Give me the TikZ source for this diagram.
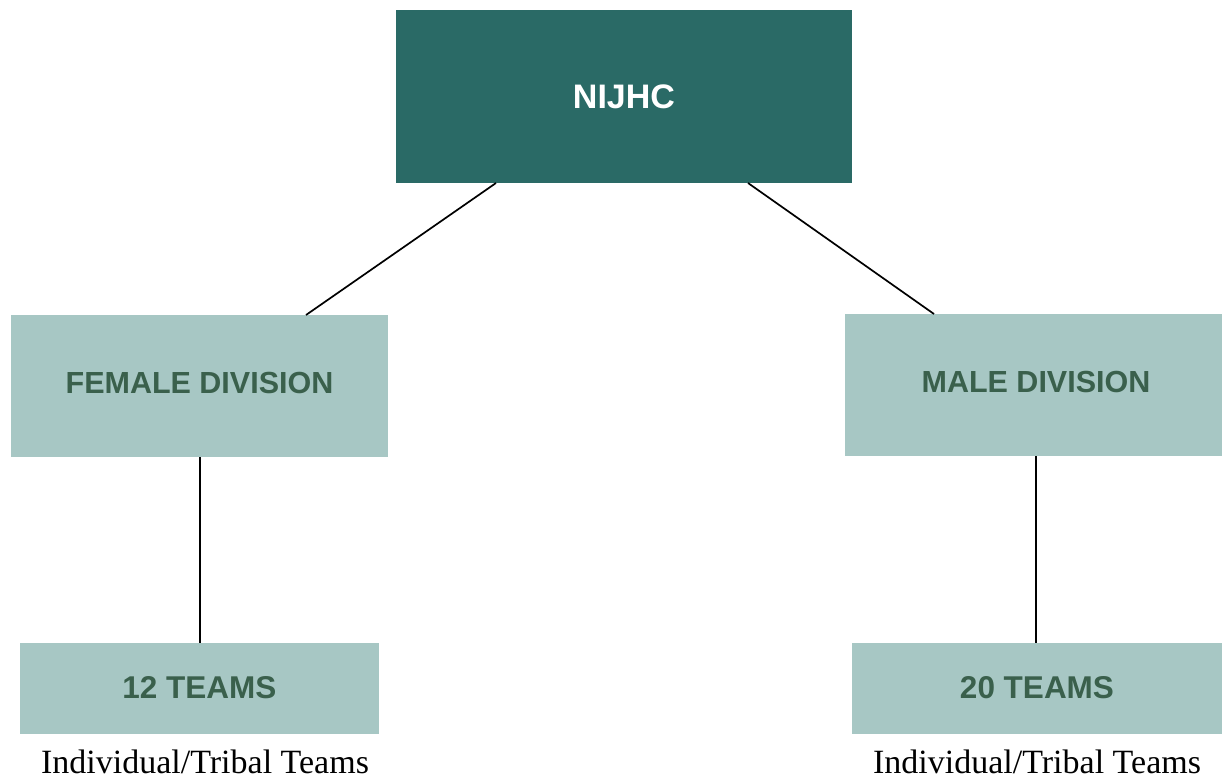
\documentclass[tikz,border=0pt]{standalone}
\usepackage{fontspec}
\setmainfont{Liberation Serif}
\setsansfont{Liberation Sans}
\definecolor{darkteal}{HTML}{2A6A66}
\definecolor{lightteal}{HTML}{A7C7C4}
\definecolor{divgreen}{HTML}{3A604C}
\begin{document}
\begin{tikzpicture}[x=1pt,y=-1pt,
  topbox/.style={fill=darkteal,text=white,font=\sffamily\bfseries\fontsize{34}{40}\selectfont},
  divbox/.style={fill=lightteal,text=divgreen,font=\sffamily\bfseries\fontsize{30.5}{36}\selectfont},
  teambox/.style={fill=lightteal,text=divgreen,font=\sffamily\bfseries\fontsize{31.5}{36}\selectfont},
  caption/.style={font=\fontsize{34}{38}\selectfont,text=black,inner sep=0pt,anchor=base},
  link/.style={draw=black,line width=1.7pt}]
\useasboundingbox (0,0) rectangle (1223,781);
\fill[white] (0,0) rectangle (1223,781);
% boxes
\path[topbox] (396,10) rectangle (852,183);
\node[topbox,fill=none] (top) at (624,97) {NIJHC};
\path[divbox] (11,315) rectangle (388,457);
\node[divbox,fill=none] (fem) at (199.5,383) {FEMALE DIVISION};
\path[divbox] (845,314) rectangle (1222,456);
\node[divbox,fill=none] (male) at (1036,382) {MALE DIVISION};
\path[teambox] (20,643) rectangle (379,734);
\node[teambox,fill=none] (t12) at (199.5,688) {12 TEAMS};
\path[teambox] (852,643) rectangle (1222,734);
\node[teambox,fill=none] (t20) at (1037,688) {20 TEAMS};
% connector endpoints
\coordinate (a1) at (496,183); \coordinate (a2) at (306,315);
\coordinate (b1) at (748,183); \coordinate (b2) at (934,314);
\coordinate (c1) at (200,457); \coordinate (c2) at (200,643);
\coordinate (d1) at (1036,456); \coordinate (d2) at (1036,643);
\draw[link] (a1) -- (a2);
\draw[link] (b1) -- (b2);
\draw[link] (c1) -- (c2);
\draw[link] (d1) -- (d2);
\node[caption] (cap1) at (205,773) {Individual/Tribal Teams};
\node[caption] (cap2) at (1037,773) {Individual/Tribal Teams};
\end{tikzpicture}
\end{document}
